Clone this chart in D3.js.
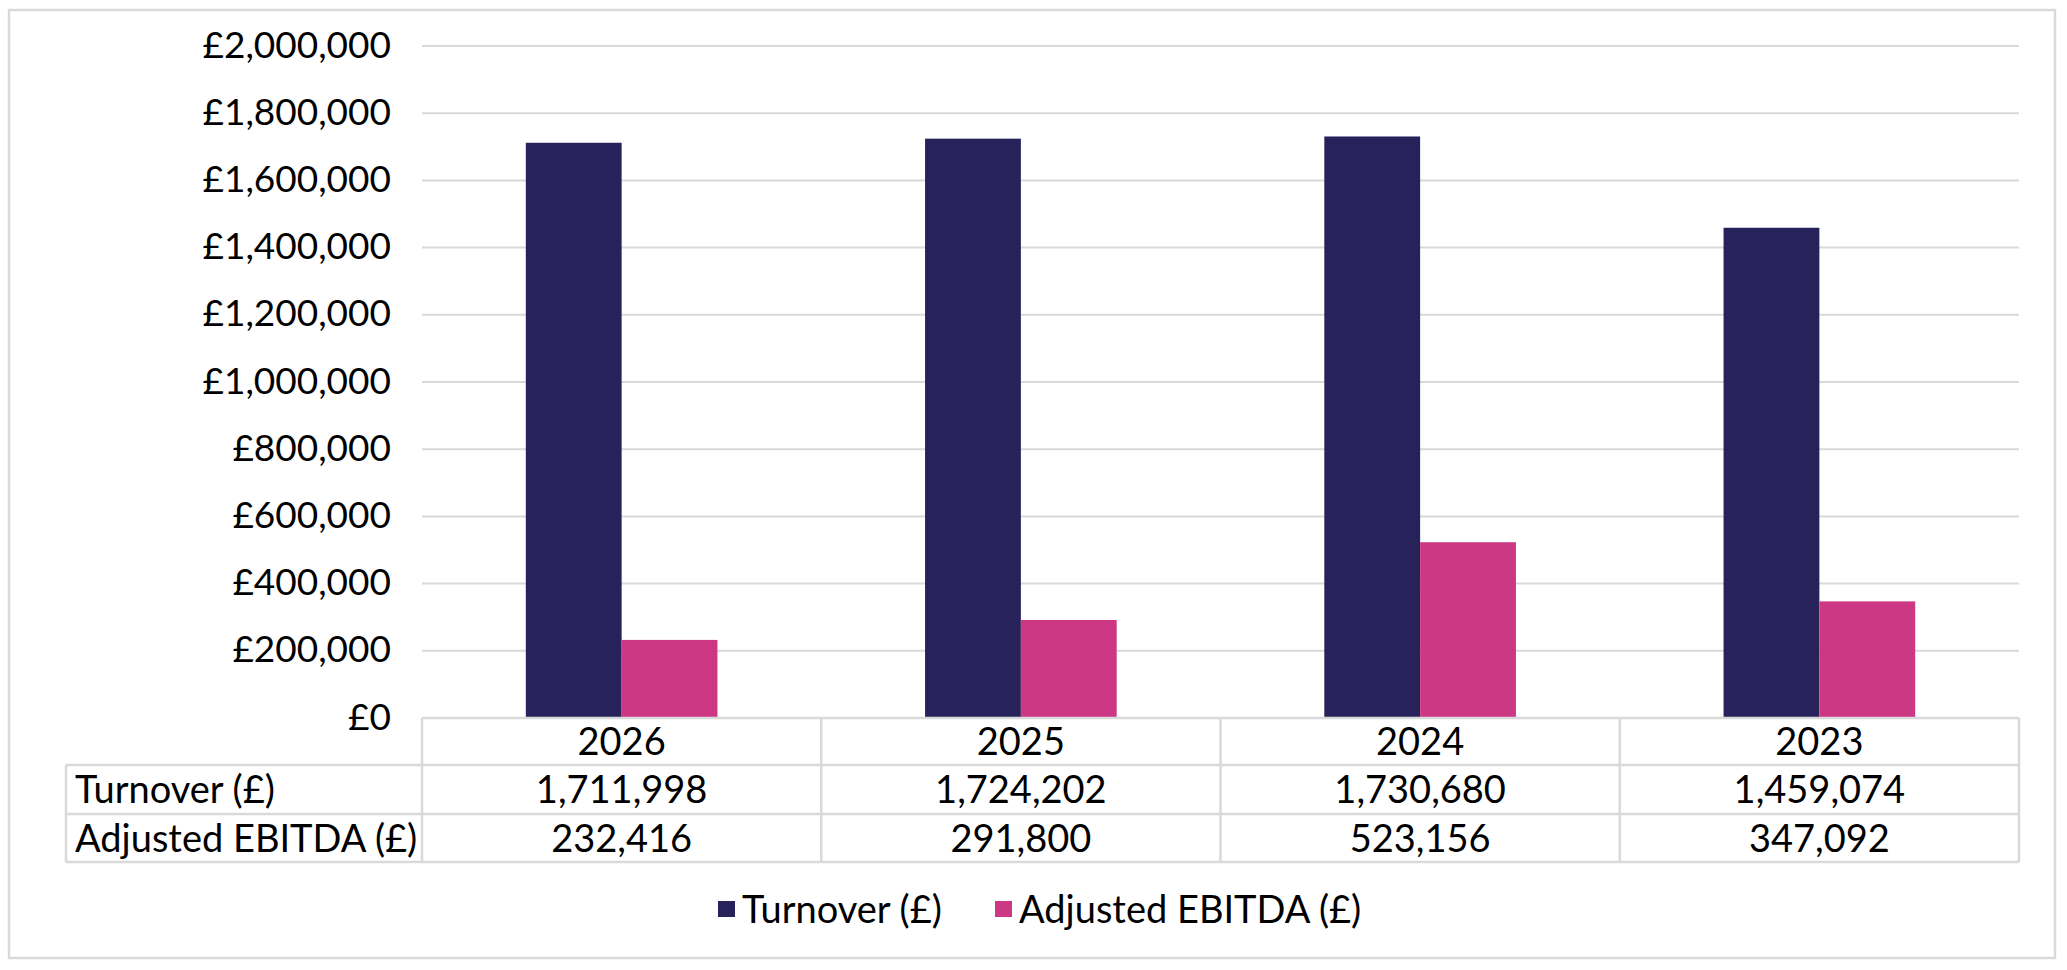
<!DOCTYPE html>
<html>
<head>
<meta charset="utf-8">
<script src="https://cdn.jsdelivr.net/npm/d3@7"></script>
<style>
  html, body { margin: 0; padding: 0; background: #fff; }
  svg { display: block; }
  text { font-family: Lato, "Open Sans", sans-serif; fill: #000; }
</style>
</head>
<body>
<svg id="chart" width="2067" height="970"></svg>
<script>
const years = ["2026", "2025", "2024", "2023"];
const seriesNames = ["Turnover (£)", "Adjusted EBITDA (£)"];
const turnover = [1711998, 1724202, 1730680, 1459074];
const ebitda = [232416, 291800, 523156, 347092];
const yTicks = [0, 200000, 400000, 600000, 800000, 1000000, 1200000, 1400000, 1600000, 1800000, 2000000];
const colors = ["#27235A", "#CC3884"];

const svg = d3.select("#chart");
const plot = { left: 422, right: 2019, top: 46, bottom: 718 };
const gridColor = "#d9d9d9";
const fontSize = 38;

// outer border
svg.append("rect")
  .attr("x", 9).attr("y", 10).attr("width", 2046).attr("height", 948)
  .attr("fill", "#fff").attr("stroke", gridColor).attr("stroke-width", 2.5);

const x0 = d3.scaleBand().domain(years).range([plot.left, plot.right]).paddingInner(0).paddingOuter(0);
const bw = x0.bandwidth();
const x1 = d3.scaleBand().domain(seriesNames).range([bw * 0.26, bw * 0.74]).padding(0);
const y = d3.scaleLinear().domain([0, 2000000]).range([plot.bottom, plot.top]);

// gridlines
svg.append("g").selectAll("line").data(yTicks.filter(d => d > 0)).join("line")
  .attr("x1", plot.left).attr("x2", plot.right)
  .attr("y1", d => y(d)).attr("y2", d => y(d))
  .attr("stroke", gridColor).attr("stroke-width", 2);

// y axis labels
const yAxis = d3.axisLeft(y).tickValues(yTicks).tickSize(0).tickPadding(0)
  .tickFormat(d => "£" + d3.format(",")(d));
const gy = svg.append("g").attr("transform", `translate(391,0)`).call(yAxis);
gy.select(".domain").remove();
gy.selectAll("text").style("font-size", "37px").style("font-family", "Lato, sans-serif").attr("fill", "#000").attr("dy", "0.3em");

// bars
const data = years.map((yr, i) => ({ year: yr, values: [turnover[i], ebitda[i]] }));
const groups = svg.append("g").selectAll("g").data(data).join("g")
  .attr("transform", d => `translate(${x0(d.year)},0)`);
groups.selectAll("rect").data(d => d.values.map((v, j) => ({ name: seriesNames[j], v, j }))).join("rect")
  .attr("x", d => x1(d.name))
  .attr("width", x1.bandwidth())
  .attr("y", d => y(d.v))
  .attr("height", d => y(0) - y(d.v))
  .attr("fill", d => colors[d.j]);

// data table
const rowTops = [718, 765, 814, 862];
const tableLeft = 66;
const tg = svg.append("g");
tg.append("line").attr("x1", plot.left).attr("x2", plot.right).attr("y1", rowTops[0]).attr("y2", rowTops[0])
  .attr("stroke", gridColor).attr("stroke-width", 2.5);
[1, 2, 3].forEach(k => {
  tg.append("line").attr("x1", tableLeft).attr("x2", plot.right).attr("y1", rowTops[k]).attr("y2", rowTops[k])
    .attr("stroke", gridColor).attr("stroke-width", 2.5);
});
const vx = years.map(yr => x0(yr)).concat([plot.right]);
vx.forEach(xv => {
  tg.append("line").attr("x1", xv).attr("x2", xv).attr("y1", rowTops[0]).attr("y2", rowTops[3])
    .attr("stroke", gridColor).attr("stroke-width", 2.5);
});
tg.append("line").attr("x1", tableLeft).attr("x2", tableLeft).attr("y1", rowTops[1]).attr("y2", rowTops[3])
  .attr("stroke", gridColor).attr("stroke-width", 2.5);

const fmt = d3.format(",");
const rowMid = k => (rowTops[k] + rowTops[k + 1]) / 2;
tg.selectAll("text.yr").data(years).join("text").attr("class", "yr")
  .attr("x", d => x0(d) + bw / 2).attr("y", rowMid(0)).attr("dy", "0.36em")
  .attr("text-anchor", "middle").style("font-size", fontSize + "px").text(d => d);
const rows = [turnover, ebitda];
rows.forEach((vals, r) => {
  tg.append("text").attr("x", 75).attr("y", rowMid(r + 1)).attr("dy", "0.36em")
    .style("font-size", fontSize + "px").text(seriesNames[r]);
  tg.selectAll("text.v" + r).data(vals).join("text").attr("class", "v" + r)
    .attr("x", (d, i) => x0(years[i]) + bw / 2).attr("y", rowMid(r + 1)).attr("dy", "0.36em")
    .attr("text-anchor", "middle").style("font-size", fontSize + "px").text(d => fmt(d));
});

// legend
const legendY = 909;
const legend = svg.append("g");
const legX = [718, 995];
seriesNames.forEach((n, i) => {
  legend.append("rect").attr("x", legX[i]).attr("y", legendY - 8).attr("width", 17).attr("height", 16)
    .attr("fill", colors[i]);
  legend.append("text").attr("x", legX[i] + 24).attr("y", legendY).attr("dy", "0.36em")
    .style("font-size", fontSize + "px").text(n);
});
</script>
</body>
</html>
